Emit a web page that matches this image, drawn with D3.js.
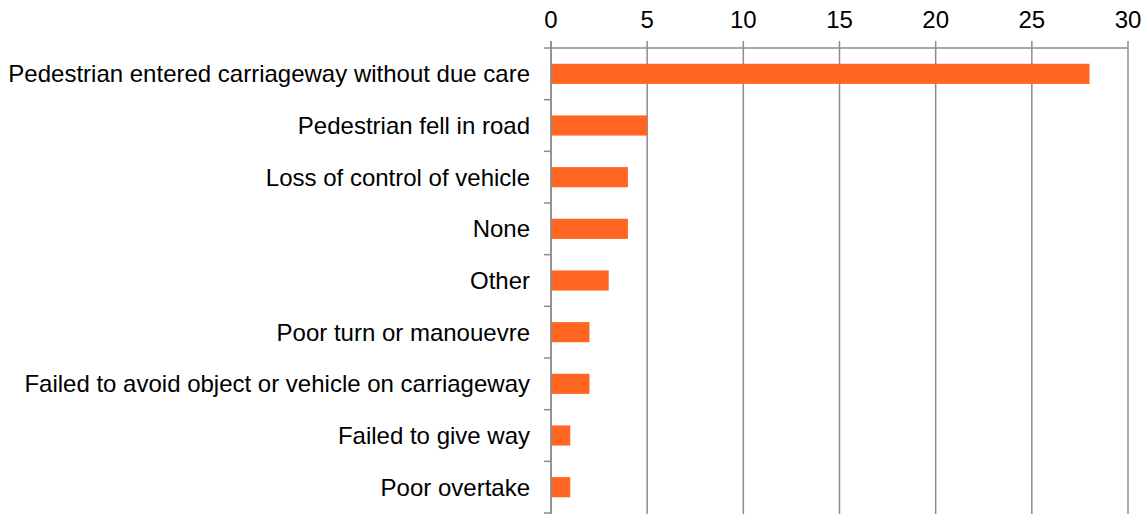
<!DOCTYPE html>
<html><head><meta charset="utf-8">
<script src="https://cdn.jsdelivr.net/npm/d3@7"></script>
<style>body{margin:0;background:#fff}svg{display:block}text{font-family:"Liberation Sans",Arial,sans-serif}</style>
</head><body>
<script>
const categories = ["Pedestrian entered carriageway without due care","Pedestrian fell in road","Loss of control of vehicle","None","Other","Poor turn or manouevre","Failed to avoid object or vehicle on carriageway","Failed to give way","Poor overtake"];
const values = [28,5,4,4,3,2,2,1,1];
const xTicks = [0,5,10,15,20,25,30];

const W=1148,H=514;
const svg=d3.select("body").append("svg").attr("width",W).attr("height",H);
const x=d3.scaleLinear().domain([0,30]).range([551,1128]);
const y=d3.scaleBand().domain(categories).range([48,513]).paddingInner(0.61).paddingOuter(0.305);
const grey="#8c8c8c";

// gridlines
svg.append("g").selectAll("line").data(xTicks).join("line")
  .attr("x1",d=>x(d)).attr("x2",d=>x(d)).attr("y1",41).attr("y2",H)
  .attr("stroke",grey).attr("stroke-width",1.5);
// top axis line
svg.append("line").attr("x1",x(0)).attr("x2",x(30)).attr("y1",48).attr("y2",48).attr("stroke",grey).attr("stroke-width",1.5);
// tick labels
svg.append("g").selectAll("text").data(xTicks).join("text")
  .attr("x",d=>x(d)).attr("y",28).attr("text-anchor","middle").attr("font-size",24).attr("fill","#000").text(d=>d);

// category separators
const step=y.step();
const seps=d3.range(categories.length+1).map(i=>48+i*step);
svg.append("g").selectAll("line").data(seps).join("line")
  .attr("x1",544).attr("x2",551).attr("y1",d=>d).attr("y2",d=>d).attr("stroke",grey).attr("stroke-width",1.5);

// bars
svg.append("g").selectAll("rect").data(values).join("rect")
  .attr("x",x(0)).attr("y",(d,i)=>y(categories[i])).attr("width",d=>x(d)-x(0)).attr("height",y.bandwidth()).attr("fill","#FF6622");

// y axis line
svg.append("line").attr("x1",x(0)).attr("x2",x(0)).attr("y1",41).attr("y2",H).attr("stroke",grey).attr("stroke-width",1.5);

// labels
svg.append("g").selectAll("text").data(categories).join("text")
  .attr("x",530).attr("y",d=>y(d)+y.bandwidth()/2).attr("dy","0.35em").attr("text-anchor","end")
  .attr("font-size",24).attr("fill","#000").text(d=>d);
</script>
</body></html>
